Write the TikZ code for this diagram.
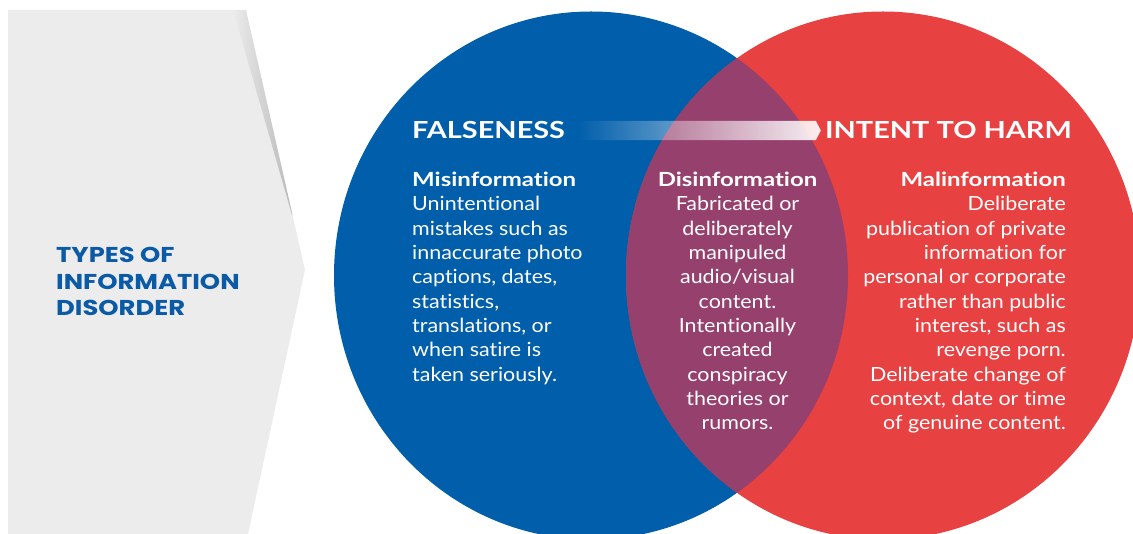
\documentclass[tikz,border=0pt]{standalone}
\usepackage{fontspec}
\setmainfont{Lato}[Ligatures=NoCommon, FakeStretch=1.1, BoldFeatures={FakeStretch=1.23}]
\newfontfamily\titlefont{Poppins}[FakeStretch=1.2]
\usepackage{tikz}
\usetikzlibrary{calc,positioning,fadings}
\definecolor{falseblue}{RGB}{0,94,170}
\definecolor{harmred}{RGB}{232,65,66}
\definecolor{lensviolet}{RGB}{150,64,110}
\definecolor{panelgray}{RGB}{236,236,236}
\definecolor{titleblue}{RGB}{10,90,165}
\tikzfading[name=arrowfade, left color=transparent!100, right color=transparent!8]
\tikzfading[name=edgefade, left color=transparent!100, right color=transparent!78]
\tikzstyle{heading}  = [font=\fontsize{23.5}{28}\selectfont\bfseries, text=white, inner sep=0pt]
\tikzstyle{body}     = [font=\fontsize{19.5}{24.3}\selectfont, text=white, inner sep=0pt]
\tikzstyle{title}    = [font=\titlefont\fontsize{21.5}{26.5}\selectfont\bfseries, text=titleblue, inner sep=0pt, align=left]

\begin{document}
\begin{tikzpicture}[x=1pt, y=-1pt]
        \useasboundingbox (0,0) rectangle (1133,534);
        \clip (0,0) rectangle (1133,534);

        % grey panel with its edge shadow
        \fill[panelgray] (8,10) -- (246,10) -- (305,270) -- (248,534) -- (8,534) -- cycle;
        \begin{scope}
            \clip (8,10) -- (246,10) -- (305,270) -- (248,534) -- (8,534) -- cycle;
            \fill[black, path fading=edgefade] (233,10) -- (248,10) -- (294,215) -- (292,215) -- cycle;
        \end{scope}
        \node[title, anchor=north west] (types) at (56,247) {TYPES OF\\INFORMATION\\DISORDER};

        % the two sets
        \coordinate (falsecentre) at (591,275.5);
        \coordinate (harmcentre) at (883,275.5);
        \fill[falseblue] (falsecentre) ellipse (257 and 264);
        \fill[harmred] (harmcentre) ellipse (257 and 264);
        \begin{scope}
            \clip (falsecentre) ellipse (257 and 264);
            \fill[lensviolet] (harmcentre) ellipse (257 and 264);
        \end{scope}

        \node[heading, anchor=base west] (falseness) at (412,139) {FALSENESS};
        \node[heading, anchor=base east] (harm) at (1072,139) {INTENT TO HARM};

        \coordinate (arrowstart) at ([xshift=12pt]falseness.east);
        \coordinate (arrowtip) at ([xshift=-4pt]harm.west);
        \fill[white, path fading=arrowfade]
            ($(arrowstart)+(0,-9.5)$) -- ($(arrowtip)+(-5,-9.5)$) -- (arrowtip)
            -- ($(arrowtip)+(-5,9.5)$) -- ($(arrowstart)+(0,9.5)$) -- cycle;

        \node[body, anchor=north west, align=left] (misinfo) at (412,172)
            {{\bfseries Misinformation}\\Unintentional\\mistakes such as\\innaccurate photo\\captions, dates,\\statistics,\\translations, or\\when satire is\\taken seriously.};
        \node[body, anchor=north, align=center] (disinfo) at (737.5,172)
            {{\bfseries Disinformation}\\Fabricated or\\deliberately\\manipuled\\audio/visual\\content.\\Intentionally\\created\\conspiracy\\theories or\\rumors.};
        \node[body, anchor=north east, align=right] (malinfo) at (1066,172)
            {{\bfseries Malinformation}\\Deliberate\\publication of private\\information for\\personal or corporate\\rather than public\\interest, such as\\revenge porn.\\Deliberate change of\\context, date or time\\of genuine content.};
    \end{tikzpicture}
\end{document}
